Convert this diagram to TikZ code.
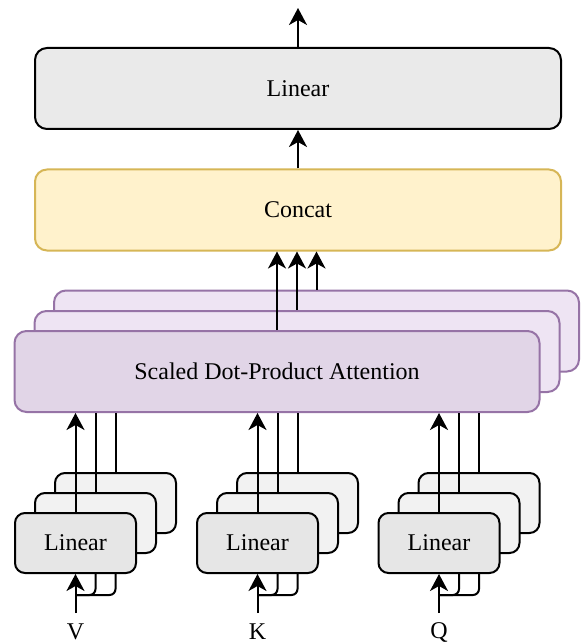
\documentclass[tikz,border=0pt]{standalone}
\usepackage{fontspec}
\setmainfont{Liberation Serif}
\usetikzlibrary{arrows.meta,calc}
\pgfdeclarelayer{background}
\pgfsetlayers{background,main}

\definecolor{toplin}{HTML}{EAEAEA}
\definecolor{linfill}{HTML}{E6E6E6}
\definecolor{linlight}{HTML}{F2F2F2}
\definecolor{catfill}{HTML}{FFF2CC}
\definecolor{catline}{HTML}{D6B656}
\definecolor{attfill}{HTML}{E1D5E7}
\definecolor{attlight}{HTML}{EEE4F3}
\definecolor{attline}{HTML}{9673A6}

\begin{document}
\begin{tikzpicture}[x=1pt,y=-1pt,
  every node/.style={font=\fontsize{24}{28}\selectfont, inner sep=0pt},
  wire/.style={line width=2pt, black},
  arr/.style={wire, -{Stealth[length=17pt,width=18pt,inset=5pt]}},
  box/.style={draw=black, line width=2pt, rounded corners=10pt},
  smallfront/.style={box, fill=linfill, minimum width=121pt, minimum height=60pt},
  smallback/.style={box, fill=linlight, minimum width=121pt, minimum height=60pt},
  bigbox/.style={box, rounded corners=12pt, minimum width=526pt, minimum height=81pt},
  attbox/.style={draw=attline, line width=2pt, rounded corners=12pt,
                 minimum width=525pt, minimum height=81pt}]

\useasboundingbox (0,0) rectangle (580,644);

% output stage
\node[bigbox, fill=toplin] (lin) at (298,88.5) {Linear};
\node[bigbox, draw=catline, fill=catfill] (concat) at (298,210) {Concat};

% stacked attention heads
\node[attbox, fill=attlight] (attB) at (316.5,331) {};
\node[attbox, fill=attlight] (attM) at (297,351.5) {};
\node[attbox, fill=attfill] (attF) at (277,371.5) {Scaled Dot-Product Attention};

% per-input linear projections
\foreach \g/\cx in {V/75.5, K/257.5, Q/439}{
  \node[smallback]  (linB\g) at (\cx+40,503) {};
  \node[smallback]  (linM\g) at (\cx+20,523) {};
  \node[smallfront] (linF\g) at (\cx,543) {Linear};
  \node (lab\g) at (\cx,632) {\g};
  \coordinate (in\g) at (\cx,613);
  \coordinate (j\g) at (\cx,595);
  \begin{pgfonlayer}{background}
    \draw[wire, rounded corners=6pt] (j\g) -| (linM\g.south);
    \draw[wire, rounded corners=6pt] (j\g) -| (linB\g.south);
  \end{pgfonlayer}
  \draw[arr] (in\g) -- (linF\g.south);
  \draw[arr] (linF\g.north) -- (linF\g.north |- attF.south);
  \draw[wire] (linM\g.north) -- (linM\g.north |- attF.south);
  \draw[wire] (linB\g.north) -- (linB\g.north |- attF.south);
}

% heads into concat
\draw[arr] (attF.north) -- (attF.north |- concat.south);
\draw[arr] (attM.north) -- (attM.north |- concat.south);
\draw[arr] (attB.north) -- (attB.north |- concat.south);

% concat to linear, linear to output
\draw[arr] (concat.north) -- (lin.south);
\coordinate (out) at (298,8);
\draw[arr] (lin.north) -- (out);
\end{tikzpicture}
\end{document}
